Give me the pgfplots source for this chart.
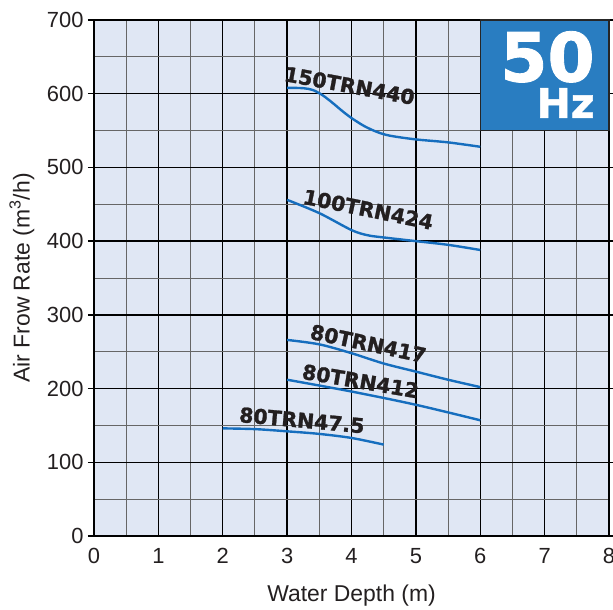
\documentclass[border=0pt]{standalone}
\usepackage{pgfplots}
\pgfplotsset{compat=1.18}
\usepackage{fontspec}
\setmainfont{Liberation Sans}
\newfontfamily\lblfont{DejaVu Sans}[BoldFeatures={FakeBold=1.3}]
\definecolor{bgblue}{RGB}{224,231,244}
\definecolor{boxblue}{RGB}{41,125,193}
\definecolor{curveblue}{RGB}{22,110,190}
\definecolor{txt}{RGB}{35,31,32}
\begin{document}
\begin{tikzpicture}
\begin{axis}[
  scale only axis, width=515bp, height=516bp,
  xmin=0, xmax=8, ymin=0, ymax=700,
  xtick={0,1,...,8}, ytick={0,100,...,700},
  minor x tick num=1, minor y tick num=1,
  grid=both,
  major grid style={black, line width=1.3bp},
  minor grid style={black!60, line width=0.9bp},
  axis line style={black, line width=1.8bp},
  axis background/.style={fill=bgblue},
  tick align=outside,
  major tick length=6bp, minor tick length=0pt,
  tick style={black, line width=1.3bp},
  xtick style={draw=none},
  /pgf/number format/assume math mode=true,
  ticklabel style={font=\fontsize{22}{26}\selectfont, text=txt},
  yticklabel style={xshift=-1bp},
  xticklabel style={yshift=-3bp},
  xlabel={Water Depth (m)},
  ylabel={Air Frow Rate (m\textsuperscript{3}/h)},
  label style={font=\fontsize{23}{27}\selectfont, text=txt},
  xlabel style={at={(axis description cs:0.5,0)}, anchor=center, yshift=-60bp},
  ylabel style={at={(axis description cs:0,0.5)}, anchor=center, yshift=72bp},
  clip=false,
]
\addplot[curveblue, line width=2.4bp, smooth, tension=0.5] coordinates {
 (3,608) (3.25,607.5) (3.4,605) (3.55,598) (3.7,588) (3.85,577) (4,567) (4.2,556) (4.4,548) (4.6,543) (5,538) (5.5,534) (6,528)};
\addplot[curveblue, line width=2.4bp, smooth, tension=0.5] coordinates {
 (3,456) (3.5,438) (4,415) (4.25,408) (4.5,405) (5,400) (5.5,395) (6,388)};
\addplot[curveblue, line width=2.4bp, smooth, tension=0.5] coordinates {
 (3,266) (3.5,260) (4,248) (4.5,234) (5,223) (5.5,212) (6,202)};
\addplot[curveblue, line width=2.4bp, smooth, tension=0.5] coordinates {
 (3,212) (4,196) (5,178) (6,157)};
\addplot[curveblue, line width=2.4bp, smooth, tension=0.5] coordinates {
 (2,146) (2.5,145) (3,142) (3.5,138.5) (4,133) (4.5,124)};
\begin{scope}[every node/.style={font=\lblfont\bfseries\fontsize{20.5}{24}\selectfont, text=txt, inner sep=0pt}]
\node[rotate=-10.5] at (axis cs:3.97,611) {150TRN440};
\node[rotate=-11.5] at (axis cs:4.26,443) {100TRN424};
\node[rotate=-12] at (axis cs:4.26,261) {80TRN417};
\node[rotate=-9.7] at (axis cs:4.14,210) {80TRN412};
\node[rotate=-5.2] at (axis cs:3.23,157) {80TRN47.5};
\end{scope}
\draw[fill=boxblue, draw=black!85, line width=1.5bp] (axis cs:6,550) rectangle (axis cs:8,700);
\node[anchor=east, inner sep=0pt, text=white, font=\lblfont\bfseries\fontsize{68}{70}\selectfont] at (axis cs:7.78,650) {50};
\node[anchor=east, inner sep=0pt, text=white, font=\lblfont\bfseries\fontsize{41}{44}\selectfont] at (axis cs:7.78,587.5) {Hz};
\end{axis}
\pgfresetboundingbox
\path[use as bounding box] (-94bp,-74bp) rectangle (519bp,536bp);
\end{tikzpicture}
\end{document}
